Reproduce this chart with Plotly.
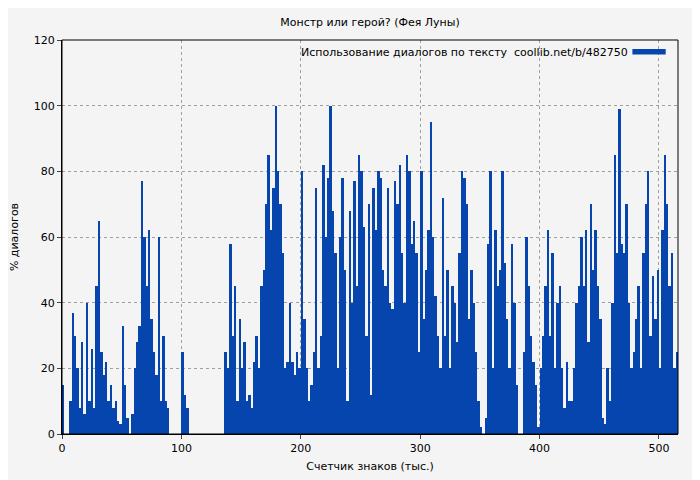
import plotly.graph_objects as go

x_start = 0
x_step = 2
dialog_pct = [
15,0,0,10,37,30,20,8,28,6,
40,10,26,8,45,65,25,18,22,10,
15,8,10,4,3,33,15,5,0,6,
20,28,33,77,60,45,62,35,25,18,
60,10,30,10,8,0,0,0,0,0,
25,12,8,0,0,0,0,0,0,0,
0,0,0,0,0,0,0,0,25,20,
58,30,45,10,35,20,28,10,12,8,
22,30,20,45,50,70,85,62,75,100,
80,70,55,20,22,40,22,18,25,20,
80,35,20,10,15,25,75,20,30,82,
60,78,100,68,55,20,60,78,50,10,
68,40,77,45,85,80,63,30,70,12,
75,62,80,78,50,45,75,40,38,77,
70,82,55,40,85,80,58,65,55,25,
80,35,50,62,95,60,42,30,20,72,
30,50,20,45,40,28,55,80,78,70,
35,50,40,25,10,2,0,5,58,80,
20,62,45,50,80,52,35,20,58,40,
15,0,0,25,60,45,30,22,15,2,
20,30,45,62,30,55,20,40,45,20,
8,22,10,10,20,40,45,60,45,62,
28,70,50,62,45,35,5,3,20,10,
40,85,55,99,58,55,70,40,20,25,
35,45,20,55,70,80,30,48,35,50,
20,62,85,70,45,55,20,25,30,
]
xs = [x_start + x_step*i + x_step/2 for i in range(len(dialog_pct))]

title = "Монстр или герой? (Фея Луны)"
series_name = "Использование диалогов по тексту  coollib.net/b/482750"
x_title = "Счетчик знаков (тыс.)"
y_title = "% диалогов"
color = "#0645ad"

fig = go.Figure(go.Bar(x=xs, y=dialog_pct, width=x_step, marker=dict(color=color, line=dict(width=0)),
                       name=series_name, showlegend=False))
grid = dict(showgrid=True, gridcolor="#a0a0a0", griddash="dot", gridwidth=1, automargin=False,
            showline=True, linecolor="black", linewidth=1, ticks="outside", ticklen=4, zeroline=False,
            tickfont=dict(size=11))
fig.update_layout(
    width=700, height=480, paper_bgcolor="#f4f4f4", plot_bgcolor="#f4f4f4",
    font=dict(family="DejaVu Sans", size=11, color="black"),
    title=dict(text=title, x=0.5, xref="paper", y=0.978, xanchor="center", font=dict(size=11)),
    margin=dict(l=54, r=30, t=32, b=54, autoexpand=False),
    bargap=0,
    xaxis=dict(range=[0, 516], dtick=100, title=dict(text=x_title, standoff=8, font=dict(size=11)), **grid),
    yaxis=dict(range=[0, 120], dtick=20, title=dict(text=y_title, standoff=18, font=dict(size=11)), **grid),
)
fig.add_shape(type="rect", xref="paper", yref="paper", x0=0, y0=0, x1=1, y1=1, line=dict(color="black", width=1))
fig.add_annotation(text=series_name, xref="paper", yref="paper", x=0.922, y=0.99, xanchor="right", yanchor="top",
                   showarrow=False, font=dict(size=11))
fig.add_shape(type="rect", xref="paper", yref="paper", x0=0.926, x1=0.98, y0=0.963, y1=0.977,
              fillcolor=color, line=dict(width=0))
fig.write_html("out.html")
